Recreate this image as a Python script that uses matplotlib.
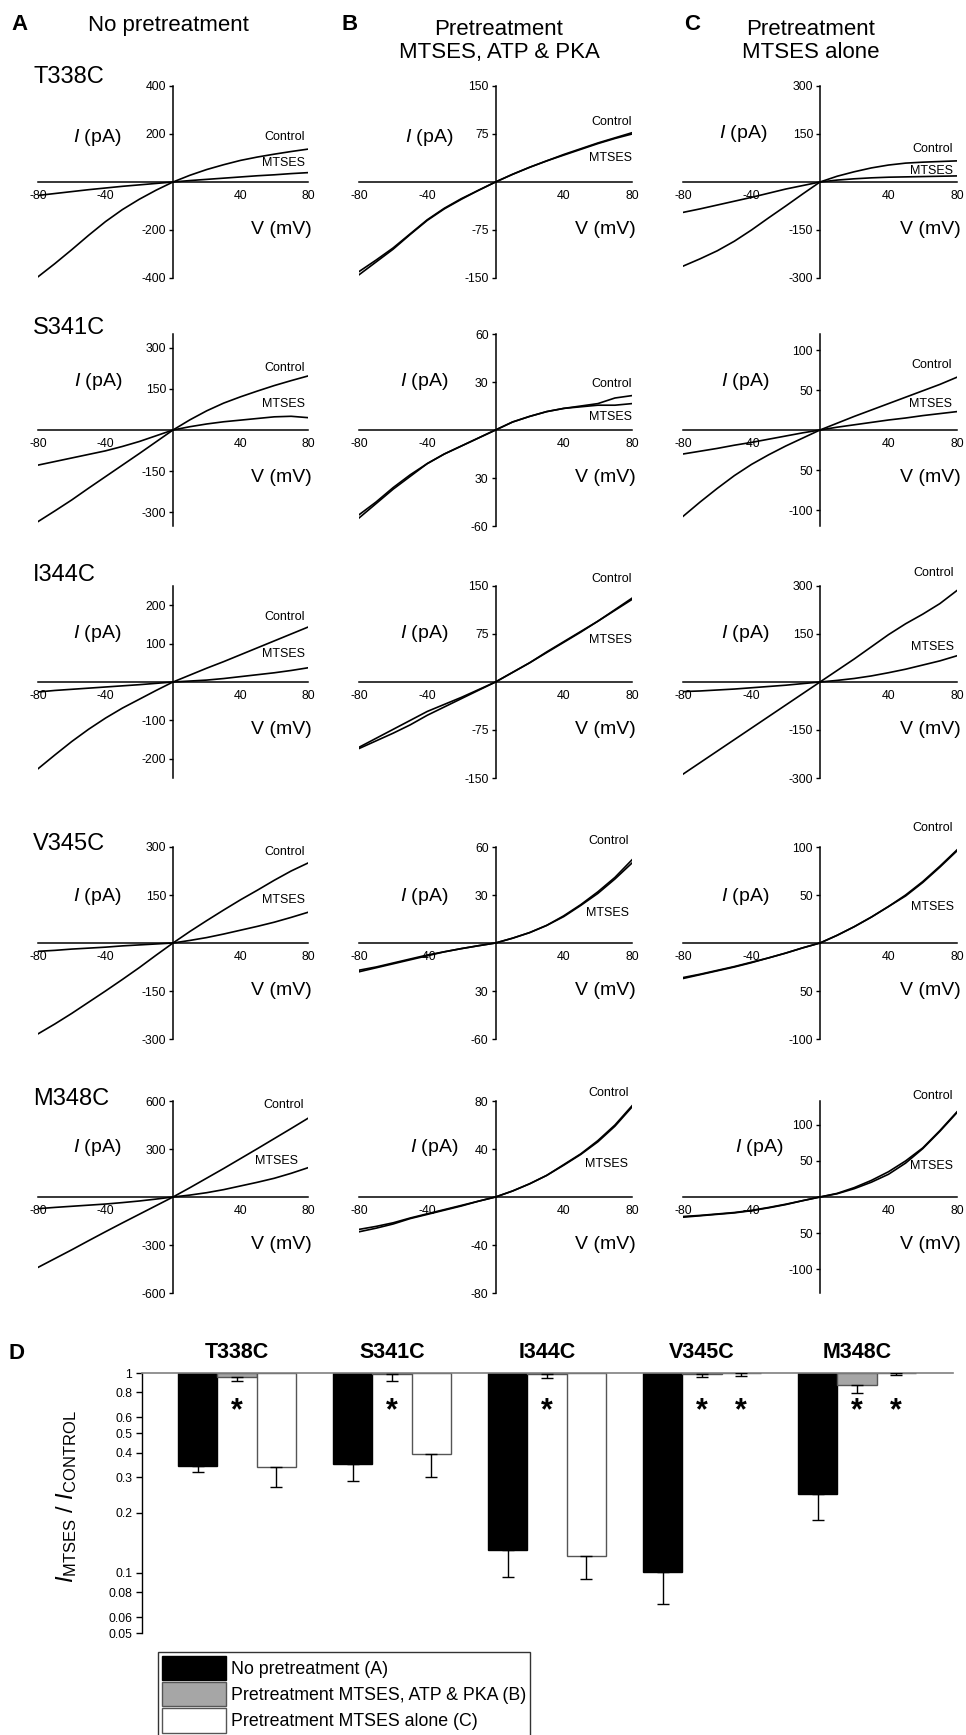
import numpy as np
import matplotlib
matplotlib.use("Agg")
import matplotlib.pyplot as plt
from matplotlib.transforms import blended_transform_factory

plt.rcParams['font.family'] = ['Liberation Sans', 'DejaVu Sans']
plt.rcParams['mathtext.fontset'] = 'custom'
plt.rcParams['mathtext.rm'] = 'Liberation Sans'
plt.rcParams['mathtext.it'] = 'Liberation Sans:italic'
plt.rcParams['mathtext.bf'] = 'Liberation Sans:bold'

# ---------------------------------------------------------------- data
voltage_mv = [-80, -70, -60, -50, -40, -30, -20, -10, 0, 10, 20, 30, 40, 50, 60, 70, 80]

mutants = ["T338C", "S341C", "I344C", "V345C", "M348C"]
conditions = ["No pretreatment", "Pretreatment\nMTSES, ATP & PKA", "Pretreatment\nMTSES alone"]
panel_letters = ["A", "B", "C"]

# current traces (pA)
t338c_a_control = [-395, -340, -282, -222, -165, -115, -72, -34, 0, 28, 52, 72, 90, 104, 116, 127, 137]
t338c_a_mtses = [-56, -48, -40, -32, -25, -18, -12, -6, 0, 6, 11, 16, 21, 26, 30, 35, 39]
t338c_b_control = [-145, -125, -105, -82, -60, -42, -27, -13, 0, 12, 23, 33, 43, 52, 61, 69, 77]
t338c_b_mtses = [-140, -122, -103, -81, -59, -41, -26, -13, 0, 12, 23, 33, 42, 51, 60, 68, 75]
t338c_c_control = [-263, -240, -215, -185, -150, -112, -75, -37, 0, 18, 32, 44, 53, 59, 62, 64, 66]
t338c_c_mtses = [-95, -84, -72, -60, -48, -35, -22, -11, 0, 6, 10, 13, 15, 16, 17, 18, 19]

s341c_a_control = [-334, -295, -255, -212, -170, -128, -86, -43, 0, 37, 70, 98, 121, 142, 162, 180, 197]
s341c_a_mtses = [-128, -115, -102, -89, -76, -60, -42, -21, 0, 12, 22, 30, 36, 42, 48, 50, 45]
s341c_b_control = [-55, -46, -37, -29, -21, -15, -10, -5, 0, 5, 8.5, 11.5, 13.5, 15, 16.5, 20, 21.5]
s341c_b_mtses = [-53, -45, -36, -28, -21, -15, -10, -5, 0, 5, 8.5, 11.5, 13.5, 14.5, 15.5, 15.5, 16.5]
s341c_c_control = [-108, -90, -73, -57, -43, -31, -20, -10, 0, 8.5, 17, 25, 33, 41, 49, 57, 66]
s341c_c_mtses = [-30, -26.5, -23, -19, -15.5, -11.5, -7.5, -3.5, 0, 3.5, 6.5, 9.5, 12.5, 15, 18, 20.5, 23]

i344c_a_control = [-226, -190, -155, -123, -94, -68, -45, -22, 0, 18, 36, 53, 71, 89, 107, 125, 143]
i344c_a_mtses = [-26, -22, -19, -16, -13, -10, -7, -3.5, 0, 2.5, 5, 9, 14, 19, 24, 30, 37]
i344c_b_control = [-104, -92, -80, -67, -52, -39, -26, -13, 0, 15, 30, 47, 63, 79, 95, 113, 131]
i344c_b_mtses = [-102, -88, -74, -60, -46, -35, -24, -12, 0, 15, 30, 46, 62, 78, 95, 112, 129]
i344c_c_control = [-288, -252, -216, -180, -144, -108, -72, -36, 0, 36, 72, 110, 148, 182, 212, 245, 286]
i344c_c_mtses = [-30, -28, -25, -22, -18, -14, -10, -5, 0, 5, 11, 19, 29, 40, 53, 66, 82]

v345c_a_control = [-284, -253, -220, -185, -150, -114, -77, -38, 0, 36, 70, 103, 135, 165, 196, 225, 250]
v345c_a_mtses = [-26, -23, -19, -16, -13, -9, -6, -3, 0, 8, 17, 28, 40, 52, 65, 80, 96]
v345c_b_control = [-17, -15, -12.5, -10, -7.5, -5.5, -3.5, -1.7, 0, 3, 6.5, 11, 17, 24, 32, 41, 52]
v345c_b_mtses = [-18, -15.5, -13, -10.5, -8, -5.5, -3.5, -1.7, 0, 3, 6.5, 11, 16.5, 23.5, 31, 40, 50]
v345c_c_control = [-37, -33, -29, -25, -20.5, -15.5, -10.5, -5, 0, 8, 17, 27, 38, 50, 64, 80, 97]
v345c_c_mtses = [-36, -32.5, -28.5, -24.5, -20, -15.5, -10.5, -5, 0, 8, 17, 27, 38, 49, 63, 79, 96]

m348c_a_control = [-440, -385, -330, -273, -217, -162, -108, -54, 0, 58, 118, 178, 240, 302, 365, 428, 492]
m348c_a_mtses = [-73, -65, -58, -51, -44, -35, -25, -13, 0, 12, 27, 46, 69, 92, 117, 148, 183]
m348c_b_control = [-29, -26, -22.5, -18, -14.5, -11, -7.5, -3.5, 0, 5, 11, 18, 27, 36, 47, 60, 76]
m348c_b_mtses = [-27, -24.5, -21.5, -17.5, -14, -10.5, -7, -3.5, 0, 5, 11, 18, 26.5, 35.5, 46, 59, 75]
m348c_c_control = [-28, -26, -24, -22, -19, -15, -10.5, -5, 0, 5, 13, 23, 35, 50, 68, 92, 118]
m348c_c_mtses = [-27, -25.5, -23.5, -21.5, -18.5, -14.5, -10, -5, 0, 4.5, 11.5, 20.5, 31.5, 47, 67, 91, 117]

traces = [
    [(t338c_a_control, t338c_a_mtses), (t338c_b_control, t338c_b_mtses), (t338c_c_control, t338c_c_mtses)],
    [(s341c_a_control, s341c_a_mtses), (s341c_b_control, s341c_b_mtses), (s341c_c_control, s341c_c_mtses)],
    [(i344c_a_control, i344c_a_mtses), (i344c_b_control, i344c_b_mtses), (i344c_c_control, i344c_c_mtses)],
    [(v345c_a_control, v345c_a_mtses), (v345c_b_control, v345c_b_mtses), (v345c_c_control, v345c_c_mtses)],
    [(m348c_a_control, m348c_a_mtses), (m348c_b_control, m348c_b_mtses), (m348c_c_control, m348c_c_mtses)],
]

# axis limits and y tick labels per panel (row x column)
y_limits = [[400, 150, 300], [350, 60, 120], [250, 150, 300], [300, 60, 100], [600, 80, 133]]
y_ticks = [
    [[400, 200, -200, -400], [150, 75, -75, -150], [300, 150, -150, -300]],
    [[300, 150, -150, -300], [60, 30, -30, -60], [100, 50, -50, -100]],
    [[200, 100, -100, -200], [150, 75, -75, -150], [300, 150, -150, -300]],
    [[300, 150, -150, -300], [60, 30, -30, -60], [100, 50, -50, -100]],
    [[600, 300, -300, -600], [80, 40, -40, -80], [100, 50, -50, -100]],
]
y_ticklabels = [
    [["400", "200", "-200", "-400"], ["150", "75", "-75", "-150"], ["300", "150", "-150", "-300"]],
    [["300", "150", "-150", "-300"], ["60", "30", "30", "-60"], ["100", "50", "50", "-100"]],
    [["200", "100", "-100", "-200"], ["150", "75", "-75", "-150"], ["300", "150", "-150", "-300"]],
    [["300", "150", "-150", "-300"], ["60", "30", "30", "-60"], ["100", "50", "50", "-100"]],
    [["600", "300", "-300", "-600"], ["80", "40", "-40", "-80"], ["100", "50", "50", "-100"]],
]
x_ticks = [-80, -40, 40, 80]
x_ticklabels = ["-80", "-40", "40", "80"]

# panel D: I_MTSES / I_CONTROL ratios
ratio_none = [0.343, 0.351, 0.130, 0.101, 0.248]
err_none = [0.023, 0.063, 0.035, 0.031, 0.064]
ratio_atp_pka = [0.955, 0.99, 0.99, 0.99, 0.871]
err_atp_pka = [0.043, 0.078, 0.046, 0.035, 0.077]
ratio_alone = [0.339, 0.394, 0.1216, 0.995, 0.995]
err_alone = [0.070, 0.094, 0.028, 0.029, 0.018]
signif_atp_pka = [True, True, True, True, True]
signif_alone = [False, False, False, True, True]
ratio_ticks = [1, 0.8, 0.6, 0.5, 0.4, 0.3, 0.2, 0.1, 0.08, 0.06, 0.05]
ratio_ticklabels = ["1", "0.8", "0.6", "0.5", "0.4", "0.3", "0.2", "0.1", "0.08", "0.06", "0.05"]
legend_labels = ["No pretreatment (A)", "Pretreatment MTSES, ATP & PKA (B)", "Pretreatment MTSES alone (C)"]

# ---------------------------------------------------------------- layout (pixels)
W, H = 966, 1735
fig = plt.figure(figsize=(W / 100, H / 100), dpi=100)


def rect(left, top, width, height):
    return [left / W, 1 - (top + height) / H, width / W, height / H]


col_left = [38, 359, 683]
col_width = [270, 273, 274]
row_zero = [182, 430, 682, 943, 1197]
half_h = 96

ctrl_pos = [
    [(0.99, 0.734), (1.0, 0.81), (0.985, 0.67)],
    [(0.99, 0.823), (1.0, 0.74), (0.98, 0.84)],
    [(0.99, 0.84), (1.0, 1.036), (0.99, 1.07)],
    [(0.99, 0.974), (0.99, 1.03), (0.985, 1.1)],
    [(0.985, 0.98), (0.99, 1.04), (0.985, 1.026)],
]
mts_pos = [
    [(0.99, 0.60), (1.0, 0.625), (0.985, 0.557)],
    [(0.99, 0.635), (1.0, 0.568), (0.98, 0.635)],
    [(0.99, 0.646), (1.0, 0.72), (0.99, 0.68)],
    [(0.99, 0.724), (0.99, 0.656), (0.99, 0.69)],
    [(0.963, 0.69), (0.985, 0.67), (0.985, 0.66)],
]
ilabel_pos = [
    [(0.22, 0.734), (0.257, 0.734), (0.22, 0.75)],
    [(0.224, 0.755), (0.238, 0.755), (0.226, 0.755)],
    [(0.22, 0.755), (0.238, 0.755), (0.226, 0.755)],
    [(0.22, 0.74), (0.238, 0.74), (0.226, 0.74)],
    [(0.22, 0.76), (0.276, 0.76), (0.28, 0.76)],
]
mutant_label_y = [77, 328, 575, 844, 1099]

for r in range(5):
    for c in range(3):
        ax = fig.add_axes(rect(col_left[c], row_zero[r] - half_h, col_width[c], 2 * half_h))
        ctrl, mts = traces[r][c]
        ax.plot(voltage_mv, ctrl, color="black", lw=1.2, solid_joinstyle="round")
        ax.plot(voltage_mv, mts, color="black", lw=1.2, solid_joinstyle="round")
        lim = y_limits[r][c]
        ax.set_xlim(-80, 80)
        ax.set_ylim(-lim, lim)
        for s in ("top", "right"):
            ax.spines[s].set_visible(False)
        ax.spines["left"].set_position("zero")
        ax.spines["bottom"].set_position("zero")
        ax.spines["left"].set_linewidth(1.1)
        ax.spines["bottom"].set_linewidth(1.1)
        ax.set_xticks(x_ticks)
        ax.set_xticklabels(x_ticklabels)
        ax.set_yticks(y_ticks[r][c])
        ax.set_yticklabels(y_ticklabels[r][c])
        ax.tick_params(axis="x", length=0, pad=6, labelsize=8.8)
        ax.tick_params(axis="y", direction="out", length=3, width=1, pad=2, labelsize=8.8)
        ax.patch.set_alpha(0)
        ax.text(ctrl_pos[r][c][0], ctrl_pos[r][c][1], "Control", transform=ax.transAxes,
                ha="right", va="center", fontsize=9)
        ax.text(mts_pos[r][c][0], mts_pos[r][c][1], "MTSES", transform=ax.transAxes,
                ha="right", va="center", fontsize=9)
        ax.text(ilabel_pos[r][c][0], ilabel_pos[r][c][1], r"$\mathit{I}$ (pA)", transform=ax.transAxes,
                ha="center", va="center", fontsize=14)
        ax.text(1.015, 0.255, "V (mV)", transform=ax.transAxes, ha="right", va="center", fontsize=14)
    fig.text(33 / W, 1 - mutant_label_y[r] / H, mutants[r], ha="left", va="center", fontsize=17)

# column headers
letter_x = [19, 350, 692]
title_x = [168, 499, 811]
for c in range(3):
    fig.text(letter_x[c] / W, 1 - 25 / H, panel_letters[c], ha="center", va="center",
             fontsize=16, fontweight="bold")
    fig.text(title_x[c] / W, 1 - 41 / H if "\n" in conditions[c] else 1 - 25 / H, conditions[c],
             ha="center", va="center", fontsize=16, linespacing=1.12)

# ---------------------------------------------------------------- panel D
axd = fig.add_axes(rect(142, 1373, 811, 260))
axd.set_yscale("log")
n = len(mutants)
x = np.arange(n)
w = 0.252
bar_sets = [
    (ratio_none, err_none, "black", "black"),
    (ratio_atp_pka, err_atp_pka, "#a6a6a6", "#555555"),
    (ratio_alone, err_alone, "white", "#555555"),
]
handles = []
for k, (vals, errs, fc, ec) in enumerate(bar_sets):
    xs = x + (k - 1) * w
    vals = np.array(vals)
    b = axd.bar(xs, 1 - vals, bottom=vals, width=w, color=fc, edgecolor=ec, linewidth=1.0, zorder=2)
    handles.append(b)
    axd.errorbar(xs, vals, yerr=[errs, np.zeros(n)], fmt="none", ecolor="black",
                 elinewidth=1.0, capsize=4, capthick=1.0, zorder=3)

for i in range(n):
    if signif_atp_pka[i]:
        axd.text(x[i], 0.645, "*", ha="center", va="center", fontsize=22, fontweight="bold")
    if signif_alone[i]:
        axd.text(x[i] + w, 0.645, "*", ha="center", va="center", fontsize=22, fontweight="bold")

trans = blended_transform_factory(axd.transData, axd.transAxes)
for i in range(n):
    axd.text(x[i], 1.077, mutants[i], transform=trans, ha="center", va="center",
             fontsize=15.5, fontweight="bold")

axd.set_ylim(0.05, 1)
axd.set_xlim(-0.613, -0.613 + 811 / 155)
axd.set_yticks(ratio_ticks)
axd.set_yticklabels(ratio_ticklabels)
axd.yaxis.set_minor_locator(matplotlib.ticker.NullLocator())
axd.set_xticks([])
axd.tick_params(axis="y", direction="out", length=4, width=1, pad=3, labelsize=8.8)
axd.spines["right"].set_visible(False)
axd.spines["bottom"].set_visible(False)
axd.spines["top"].set_color("#808080")
axd.spines["top"].set_linewidth(1.2)
axd.spines["left"].set_linewidth(1.0)
axd.patch.set_alpha(0)

fig.text(17 / W, 1 - 1353 / H, "D", ha="center", va="center", fontsize=16, fontweight="bold")
fig.text(67 / W, 1 - 1497 / H, r"$\mathit{I}_{\mathrm{MTSES}}$ / $\mathit{I}_{\mathrm{CONTROL}}$",
         rotation=90, ha="center", va="center", fontsize=17)

leg = axd.legend(handles=handles, labels=legend_labels, loc="upper left",
                 bbox_to_anchor=(158 / W, 1 - 1652 / H), bbox_transform=fig.transFigure,
                 frameon=True, fancybox=False, edgecolor="black", fontsize=12.8,
                 handlelength=3.6, handleheight=1.75, labelspacing=0.1, handletextpad=0.3,
                 borderpad=0.2, borderaxespad=0)
leg.get_frame().set_linewidth(1.0)

fig.savefig("out.png", dpi=100)
